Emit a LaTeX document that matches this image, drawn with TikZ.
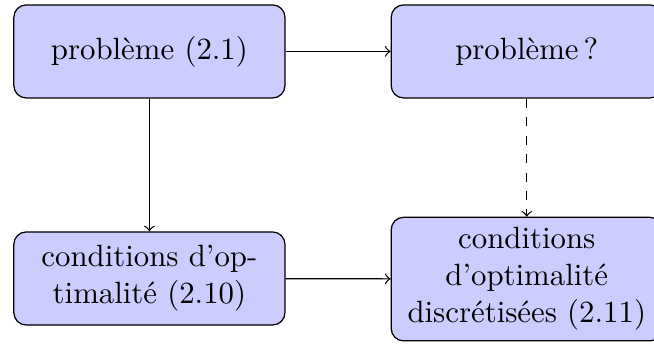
\documentclass[tikz,border=0pt]{standalone}
\usepackage{fontspec}
\begin{document}
\begin{tikzpicture}[x=1pt,y=1pt,
  box/.style={draw=black, fill=blue!20, rounded corners=4pt, align=center,
    minimum width=88pt, minimum height=30.2pt, inner sep=3.33pt},
  conn/.style={->, draw=black}]
\useasboundingbox (0,0) rectangle (212.3,-112.7);
\node[box] (a) at (48.5,-16.7) {problème (2.1)};
\node[box] (b) at (171,-16.7) {problème\,?};
\node[box] (c) at (48.5,-90.4) {conditions d'op-\\timalité (2.10)};
\node[box] (d) at (171,-90.6) {conditions\\d'optimalité\\discrétisées (2.11)};
\draw[conn] (a) -- (b);
\draw[conn] (a) -- (c);
\draw[conn, dashed] (b) -- (d);
\draw[conn] (c) -- (d);
\end{tikzpicture}
\end{document}
